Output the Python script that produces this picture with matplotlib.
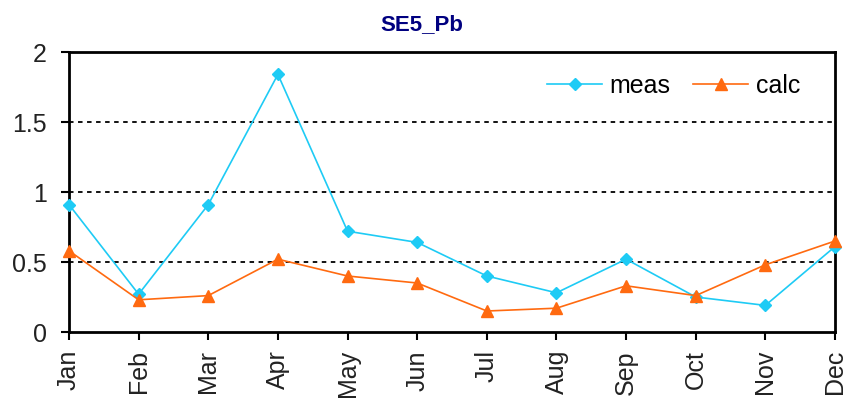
import matplotlib
matplotlib.use("Agg")
import matplotlib.pyplot as plt

months = ["Jan", "Feb", "Mar", "Apr", "May", "Jun",
          "Jul", "Aug", "Sep", "Oct", "Nov", "Dec"]
meas = [0.91, 0.27, 0.91, 1.84, 0.72, 0.64, 0.40, 0.28, 0.52, 0.25, 0.19, 0.61]
calc = [0.58, 0.23, 0.26, 0.52, 0.40, 0.35, 0.15, 0.17, 0.33, 0.26, 0.48, 0.65]
y_ticks = [0, 0.5, 1, 1.5, 2]
y_labels = ["0", "0.5", "1", "1.5", "2"]

plt.rcParams["font.family"] = ["Liberation Sans", "DejaVu Sans"]

W, H = 843, 400
fig = plt.figure(figsize=(W / 100, H / 100), dpi=100)
# plot area in pixels: left 69, right 835, top 52, bottom 332
ax = fig.add_axes([69 / W, (H - 332) / H, (835 - 69) / W, (332 - 52) / H])

x = list(range(len(months)))
ax.plot(x, meas, color="#1ECBF5", marker="D", markersize=6.5, linewidth=1.2,
        label="meas", clip_on=False, zorder=3)
ax.plot(x, calc, color="#FF6A10", marker="^", markersize=8.5, linewidth=1.2,
        label="calc", clip_on=False, zorder=4)

for yv in [0.5, 1.0, 1.5]:
    ax.axhline(yv, color="black", linestyle=(0, (2.5, 2.5)), linewidth=1.3, zorder=1)

ax.set_xlim(0, 11)
ax.set_ylim(0, 2)
ax.set_xticks(x)
ax.set_xticklabels(months, rotation=90, fontsize=18, color="#222222")
ax.set_yticks(y_ticks)
ax.set_yticklabels(y_labels, fontsize=18, color="#222222")
ax.tick_params(axis="both", direction="out", length=6, width=1.5)
ax.tick_params(axis="x", pad=7)
ax.tick_params(axis="y", pad=10)

for sp in ax.spines.values():
    sp.set_linewidth(2)
    sp.set_color("black")

fig.text(0.5, 1 - 25 / H, "SE5_Pb", fontsize=16, fontweight="bold",
         color="#000080", ha="center", va="center")

ax.legend(loc="upper right", bbox_to_anchor=(800 / W, 1 - 74 / H),
          bbox_transform=fig.transFigure, ncol=2, frameon=False,
          fontsize=18, handlelength=2.2, columnspacing=0.9, handletextpad=0.3,
          borderpad=0, borderaxespad=0)

fig.savefig("out.png", dpi=100)
